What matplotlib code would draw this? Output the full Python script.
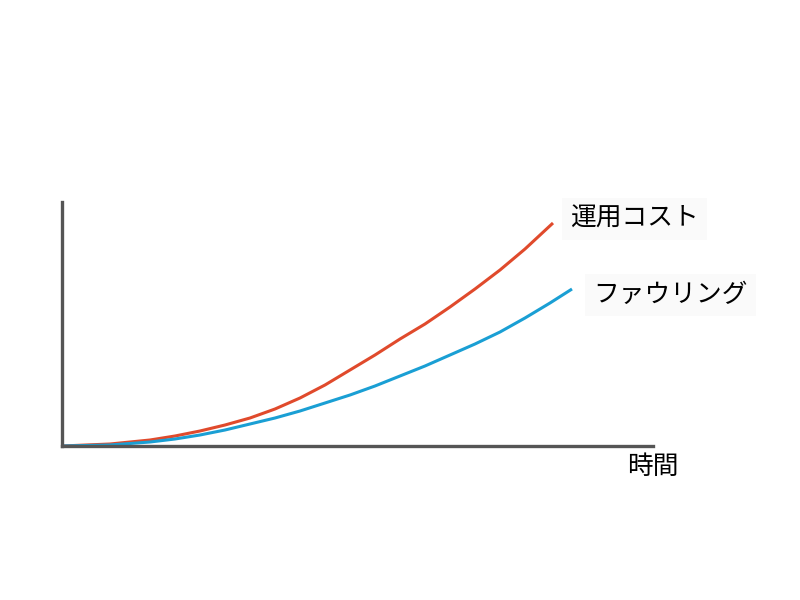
import matplotlib
matplotlib.use("Agg")
import matplotlib.pyplot as plt

plt.rcParams['font.family'] = ['Noto Sans CJK JP', 'DejaVu Sans']

# (x = time, y = cost), arbitrary units
time_op = [0, 48, 88, 113, 138, 163, 188, 213, 238, 263, 288, 313,
           338, 363, 388, 413, 438, 463, 491]
cost_op = [0, 2, 6, 10, 15, 21, 28, 37, 48, 61, 76, 91,
           107, 122, 139, 157, 176, 197, 223]

time_foul = [0, 48, 88, 113, 138, 163, 188, 213, 238, 263, 288, 313,
             338, 363, 388, 413, 438, 463, 488, 510]
cost_foul = [0, 1, 4, 7, 11, 16, 22, 28, 35, 43, 51, 60,
             70, 80, 91, 102, 114, 128, 143, 157]

label_op = "運用コスト"
label_foul = "ファウリング"
label_x = "時間"

fig = plt.figure(figsize=(8, 6), dpi=100)
ax = fig.add_axes([62 / 800, 154 / 600, 591 / 800, 244 / 600])

ax.plot(time_op, cost_op, color='#e04a2c', lw=2.2, solid_capstyle='butt')
ax.plot(time_foul, cost_foul, color='#1a9fd4', lw=2.2, solid_capstyle='butt')

ax.set_xlim(0, 591)
ax.set_ylim(0, 244)
for s in ['top', 'right']:
    ax.spines[s].set_visible(False)
for s in ['left', 'bottom']:
    ax.spines[s].set_color('#555555')
    ax.spines[s].set_linewidth(2.4)
ax.set_xticks([])
ax.set_yticks([])

box = dict(facecolor='#fafafa', edgecolor='none', pad=6)
ax.text(time_op[-1] + 17, cost_op[-1] + 4, label_op, fontsize=18.5,
        va='center', ha='left', bbox=box)
ax.text(time_foul[-1] + 21, cost_foul[-1] - 6, label_foul, fontsize=18.5,
        va='center', ha='left', bbox=box)
ax.text(565, -21, label_x, fontsize=18.5, va='center', ha='left')

fig.savefig("out.png", dpi=100)
